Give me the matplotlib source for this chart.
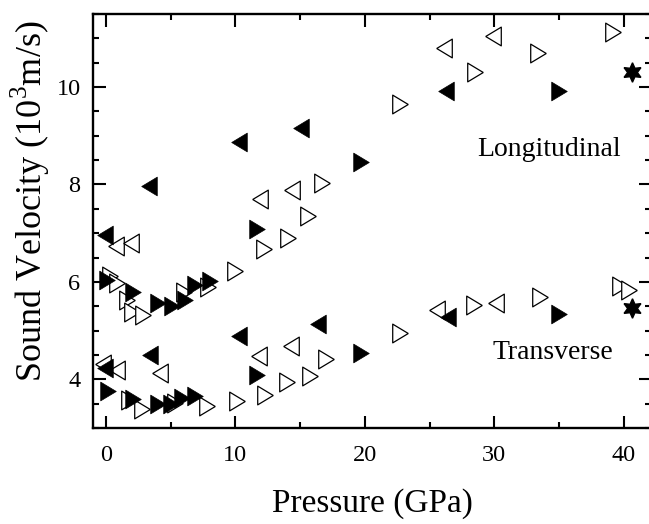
import matplotlib
matplotlib.use("Agg")
import matplotlib.pyplot as plt
from matplotlib.ticker import MultipleLocator

plt.rcParams['font.family'] = ['Liberation Serif', 'DejaVu Serif']
plt.rcParams['mathtext.fontset'] = 'custom'
plt.rcParams['mathtext.rm'] = 'Liberation Serif'

# filled left triangles (longitudinal, transverse)
fl_long_p = [-0.1, 3.35, 10.3, 15.1, 26.3]
fl_long_v = [6.97, 7.96, 8.87, 9.16, 9.91]
fl_tran_p = [-0.1, 3.4, 10.3, 16.4, 26.4]
fl_tran_v = [4.23, 4.50, 4.89, 5.14, 5.28]

# filled right triangles
fr_long_p = [0.1, 2.1, 4.0, 5.1, 6.1, 6.9, 8.05, 11.7, 19.7, 35.0]
fr_long_v = [6.04, 5.80, 5.56, 5.51, 5.63, 5.94, 6.01, 7.08, 8.47, 9.91]
fr_tran_p = [0.15, 2.1, 4.0, 5.0, 5.9, 6.85, 11.7, 19.7, 35.0]
fr_tran_v = [3.75, 3.59, 3.50, 3.50, 3.61, 3.66, 4.08, 4.54, 5.34]

# open left triangles
ol_long_p = [0.75, 1.9, 11.9, 14.35, 26.1, 29.9]
ol_long_v = [6.73, 6.80, 7.70, 7.88, 10.80, 11.04]
ol_tran_p = [-0.2, 0.85, 4.15, 11.85, 14.3, 25.6, 30.1]
ol_tran_v = [4.32, 4.20, 4.13, 4.48, 4.69, 5.43, 5.57]

# open right triangles
or_long_p = [0.3, 0.85, 1.65, 2.0, 2.9, 6.0, 7.9, 9.97, 12.2, 14.1, 15.6, 16.7, 22.7, 28.5, 33.4, 39.2]
or_long_v = [6.12, 5.98, 5.63, 5.39, 5.32, 5.80, 5.89, 6.23, 6.67, 6.90, 7.36, 8.04, 9.66, 10.30, 10.70, 11.14]
or_tran_p = [1.75, 2.8, 5.3, 7.8, 10.1, 12.3, 13.96, 15.77, 17.0, 22.7, 28.4, 33.5, 39.7, 40.4]
or_tran_v = [3.58, 3.40, 3.52, 3.45, 3.56, 3.68, 3.95, 4.07, 4.41, 4.96, 5.53, 5.69, 5.91, 5.84]

# stars at the highest pressure
star_p = [40.6, 40.6]
star_v = [10.30, 5.46]

# triangles a bit shorter along the pointing direction than matplotlib's
left_tri = [(-0.83, 0), (0.83, 1), (0.83, -1), (-0.83, 0)]
right_tri = [(0.83, 0), (-0.83, 1), (-0.83, -1), (0.83, 0)]

fig = plt.figure(figsize=(6.49, 5.24), dpi=100)
ax = fig.add_axes([93 / 649, 96 / 524, 558 / 649, 414 / 524])

ms = 13.5
for p, v in [(ol_long_p, ol_long_v), (ol_tran_p, ol_tran_v)]:
    ax.plot(p, v, ls='none', marker=left_tri, ms=ms, mfc='white', mec='black', mew=0.9)
for p, v in [(or_long_p, or_long_v), (or_tran_p, or_tran_v)]:
    ax.plot(p, v, ls='none', marker=right_tri, ms=ms, mfc='white', mec='black', mew=0.9)
for p, v in [(fl_long_p, fl_long_v), (fl_tran_p, fl_tran_v)]:
    ax.plot(p, v, ls='none', marker=left_tri, ms=ms, mfc='black', mec='black', mew=0.5)
for p, v in [(fr_long_p, fr_long_v), (fr_tran_p, fr_tran_v)]:
    ax.plot(p, v, ls='none', marker=right_tri, ms=ms, mfc='black', mec='black', mew=0.5)
ax.plot(star_p, star_v, ls='none', marker=(6, 1, 0), ms=14, mfc='black', mec='black', clip_on=False)

ax.text(34.24, 8.575, 'Longitudinal', fontsize=20, ha='center', va='baseline')
ax.text(34.5, 4.415, 'Transverse', fontsize=20, ha='center', va='baseline')

ax.set_xlim(-1, 42.1)
ax.set_ylim(3, 11.5)
ax.xaxis.set_major_locator(MultipleLocator(10))
ax.xaxis.set_minor_locator(MultipleLocator(5))
ax.yaxis.set_major_locator(MultipleLocator(2))
ax.yaxis.set_minor_locator(MultipleLocator(0.5))
ax.tick_params(which='both', direction='in', top=True, right=True, width=1.5, labelsize=17.5)
ax.tick_params(axis='x', pad=12)
ax.tick_params(axis='y', pad=9)
ax.tick_params(which='major', length=9)
ax.tick_params(which='minor', length=4.5)
for s in ax.spines.values():
    s.set_linewidth(1.7)

fig.text(372 / 649, (524 - 512) / 524, 'Pressure (GPa)', fontsize=24, ha='center', va='baseline')
fig.text(30 / 649, (524 - 201) / 524, r'Sound Velocity (10$^3$m/s)', fontsize=26,
         rotation=90, ha='center', va='center')

fig.savefig('out.png', dpi=100)
